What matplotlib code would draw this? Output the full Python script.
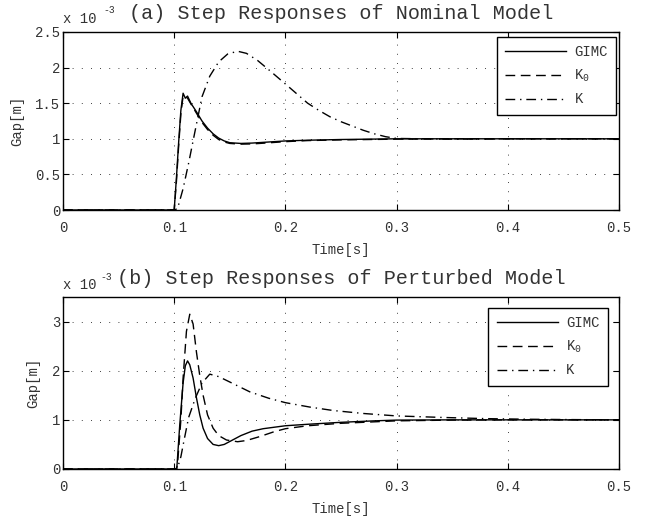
import numpy as np
import matplotlib
matplotlib.use("Agg")
import matplotlib.pyplot as plt

plt.rcParams['font.family'] = ['Liberation Mono', 'DejaVu Sans']
plt.rcParams['mathtext.fontset'] = 'custom'
plt.rcParams['mathtext.rm'] = 'Liberation Mono'
plt.rcParams['mathtext.it'] = 'Liberation Mono'

# ---------------- data (values in units of 1e-3 m) ----------------
xticks = [0, 0.1, 0.2, 0.3, 0.4, 0.5]
xticklabels = ['0', '0.1', '0.2', '0.3', '0.4', '0.5']
yticks_a = [0, 0.5, 1, 1.5, 2, 2.5]
yticklabels_a = ['0', '0.5', '1', '1.5', '2', '2.5']
yticks_b = [0, 1, 2, 3]
yticklabels_b = ['0', '1', '2', '3']
series_names = ['GIMC', 'K$_{0}$', 'K']

# (a) nominal model
t_a_gimc = [0, 0.1, 0.102, 0.104, 0.106, 0.108, 0.110, 0.112, 0.115, 0.12, 0.125, 0.13,
            0.135, 0.14, 0.145, 0.15, 0.16, 0.17, 0.18, 0.2, 0.22, 0.25, 0.3, 0.35, 0.4, 0.5]
y_a_gimc = [0, 0, 0.45, 0.95, 1.4, 1.64, 1.57, 1.6, 1.5, 1.38, 1.25, 1.15,
            1.07, 1.01, 0.97, 0.945, 0.935, 0.94, 0.95, 0.97, 0.98, 0.99, 1.0, 1.0, 1.0, 1.0]
t_a_k0 = [0, 0.1, 0.102, 0.104, 0.106, 0.108, 0.110, 0.112, 0.115, 0.12, 0.125, 0.13,
          0.135, 0.14, 0.145, 0.15, 0.16, 0.17, 0.18, 0.2, 0.22, 0.25, 0.3, 0.35, 0.4, 0.5]
y_a_k0 = [0, 0, 0.4, 0.9, 1.35, 1.6, 1.6, 1.57, 1.49, 1.36, 1.23, 1.13,
          1.05, 0.99, 0.955, 0.935, 0.925, 0.928, 0.938, 0.96, 0.975, 0.985, 0.995, 1.0, 1.0, 1.0]
t_a_k = [0, 0.1, 0.103, 0.108, 0.113, 0.118, 0.125, 0.132, 0.14, 0.148, 0.157, 0.165,
         0.175, 0.185, 0.2, 0.22, 0.23, 0.24, 0.25, 0.26, 0.27, 0.28, 0.29, 0.3, 0.35, 0.4, 0.5]
y_a_k = [0, 0, 0.02, 0.3, 0.66, 1.05, 1.59, 1.88, 2.08, 2.19, 2.23, 2.2,
         2.1, 1.97, 1.77, 1.5, 1.4, 1.31, 1.24, 1.18, 1.12, 1.07, 1.03, 1.005, 0.995, 1.0, 1.0]

# (b) perturbed model
t_b_gimc = [0, 0.1, 0.1023, 0.105, 0.108, 0.110, 0.112, 0.114, 0.117, 0.12, 0.123, 0.126,
            0.13, 0.135, 0.14, 0.145, 0.15, 0.16, 0.17, 0.18, 0.2, 0.22, 0.25, 0.28, 0.3,
            0.35, 0.4, 0.5]
y_b_gimc = [0, 0, 0, 0.9, 1.75, 2.1, 2.2, 2.12, 1.85, 1.45, 1.1, 0.83,
            0.62, 0.5, 0.475, 0.5, 0.56, 0.68, 0.77, 0.82, 0.88, 0.91, 0.95, 0.98, 0.995,
            1.0, 1.0, 1.0]
t_b_k0 = [0, 0.1, 0.102, 0.103, 0.106, 0.108, 0.111, 0.114, 0.117, 0.12, 0.123, 0.126,
          0.13, 0.135, 0.14, 0.147, 0.157, 0.165, 0.177, 0.19, 0.2, 0.22, 0.25, 0.28, 0.3,
          0.35, 0.4, 0.5]
y_b_k0 = [0, 0, 0, 0.1, 1.0, 1.85, 2.8, 3.15, 2.95, 2.38, 1.9, 1.5,
          1.1, 0.83, 0.68, 0.59, 0.555, 0.58, 0.66, 0.76, 0.82, 0.88, 0.93, 0.96, 0.98,
          0.995, 1.0, 1.0]
t_b_k = [0, 0.1, 0.103, 0.106, 0.109, 0.113, 0.119, 0.125, 0.132, 0.14, 0.15, 0.168,
         0.185, 0.2, 0.222, 0.243, 0.27, 0.3, 0.34, 0.38, 0.42, 0.46, 0.5]
y_b_k = [0, 0, 0.02, 0.25, 0.6, 1.05, 1.44, 1.75, 1.93, 1.88, 1.77, 1.57,
         1.44, 1.35, 1.26, 1.19, 1.13, 1.08, 1.05, 1.025, 1.012, 1.005, 1.0]

# ---------------- figure ----------------
W, H = 651, 521
fig = plt.figure(figsize=(W / 100, H / 100), dpi=100)

txt_color = '#333333'
styles = [dict(linestyle='-'),
          dict(linestyle=(0, (7, 4))),
          dict(linestyle=(0, (7, 3.5, 1, 3.5)))]


def px_axes(left, top, right, bottom):
    return fig.add_axes([left / W, 1 - bottom / H, (right - left) / W, (bottom - top) / H])


def style_axes(ax, yticks, yticklabels, ylim, title, legend_anchor):
    ax.set_xlim(0, 0.5)
    ax.set_ylim(*ylim)
    ax.set_xticks(xticks)
    ax.set_xticklabels(xticklabels)
    ax.set_yticks(yticks)
    ax.set_yticklabels(yticklabels)
    ax.tick_params(direction='in', top=True, right=True, length=4, width=0.8,
                   labelsize=10, colors='black', labelcolor=txt_color)
    ax.tick_params(axis='x', pad=8)
    ax.tick_params(axis='y', pad=2)
    for s in ax.spines.values():
        s.set_linewidth(1.0)
    ax.grid(True, linestyle=(0, (1, 10)), linewidth=0.6, color='black')
    ax.set_xlabel('Time[s]', fontsize=10, color=txt_color, labelpad=6)
    ax.set_ylabel('Gap[m]', fontsize=10, color=txt_color, labelpad=8)
    ax.set_title(title, fontsize=14.5, color=txt_color, pad=9)
    leg = ax.legend(loc='upper right', bbox_to_anchor=legend_anchor, fontsize=10,
                    handlelength=4.4, labelspacing=0.6, borderpad=0.6, borderaxespad=0,
                    fancybox=False, framealpha=1, edgecolor='black', handletextpad=0.6)
    leg.get_frame().set_linewidth(1.0)
    for t in leg.get_texts():
        t.set_color(txt_color)


# (a)
ax1 = px_axes(63, 32, 619, 210)
for (tt, yy), name, st in zip([(t_a_gimc, y_a_gimc), (t_a_k0, y_a_k0), (t_a_k, y_a_k)],
                              series_names, styles):
    ax1.plot(tt, yy, color='black', linewidth=1.0, label=name, **st)
style_axes(ax1, yticks_a, yticklabels_a, (0, 2.5),
           '(a) Step Responses of Nominal Model', (0.995, 0.972))
fig.text(63 / W, 1 - 23 / H, 'x 10', fontsize=10, color=txt_color, ha='left', va='baseline')
fig.text(103 / W, 1 - 13 / H, '-3', fontsize=7, color=txt_color, ha='left', va='baseline')

# (b)
ax2 = px_axes(63, 297, 619, 469)
for (tt, yy), name, st in zip([(t_b_gimc, y_b_gimc), (t_b_k0, y_b_k0), (t_b_k, y_b_k)],
                              series_names, styles):
    ax2.plot(tt, yy, color='black', linewidth=1.0, label=name, **st)
style_axes(ax2, yticks_b, yticklabels_b, (0, 3.5),
           '(b) Step Responses of Perturbed Model', (0.980, 0.936))
fig.text(63 / W, 1 - 289 / H, 'x 10', fontsize=10, color=txt_color, ha='left', va='baseline')
fig.text(100 / W, 1 - 280 / H, '-3', fontsize=7, color=txt_color, ha='left', va='baseline')

fig.savefig('out.png', dpi=100)
